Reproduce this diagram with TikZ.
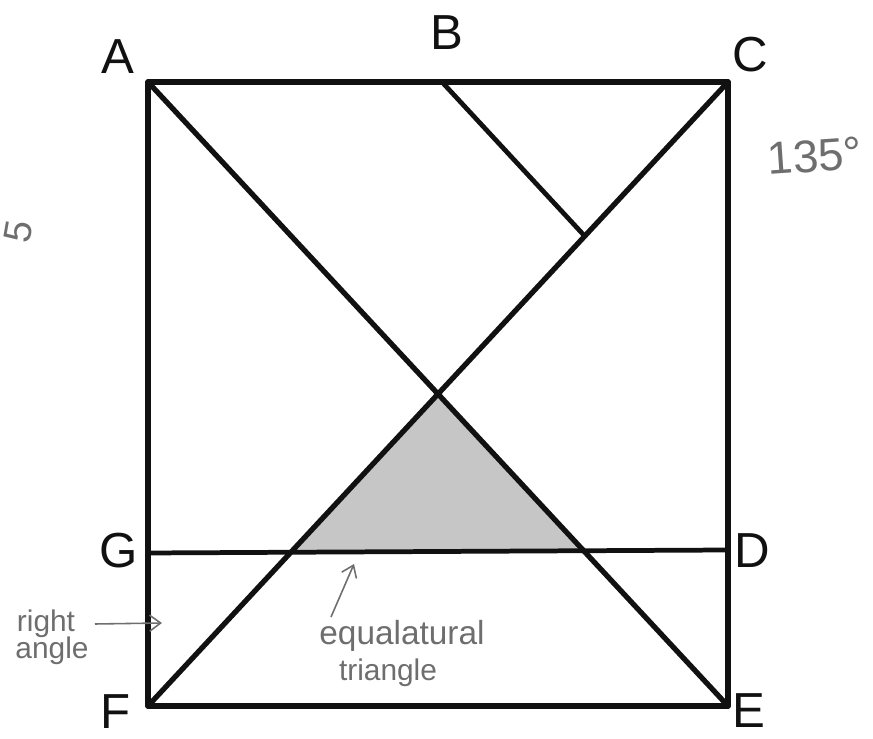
\documentclass[tikz,border=0pt]{standalone}
\usepackage{fontspec}
\setmainfont{Liberation Sans}
\usepackage{tikz}
\usetikzlibrary{arrows.meta,calc}
\definecolor{InkLine}{HTML}{111111}
\definecolor{Pencil}{HTML}{6E6E6E}
\definecolor{ShadeGrey}{HTML}{C6C6C6}
\tikzset{
  edgeline/.style={draw=InkLine,line width=3pt,line cap=round,line join=round},
  midline/.style={draw=InkLine,line width=2.7pt,line cap=round},
  ptlabel/.style={font=\fontsize{28}{30}\selectfont,text=InkLine,inner sep=0pt},
  pencilnote/.style={font=\fontsize{17}{19}\selectfont,text=Pencil,inner sep=0pt},
  pencilarrow/.style={-{Straight Barb[length=2.2mm,width=3.2mm]},draw=Pencil,line width=0.9pt}
}

\begin{document}
\begin{tikzpicture}
\useasboundingbox (0,0) rectangle (17.46,14.78);

% corner and side points
\coordinate (A) at (2.96,13.14);
\coordinate (B) at (8.84,13.14);
\coordinate (C) at (14.56,13.14);
\coordinate (D) at (14.56,3.78);
\coordinate (E) at (14.56,0.66);
\coordinate (F) at (2.96,0.66);
\coordinate (G) at (2.96,3.72);
\coordinate (K) at ($(F)!0.753!(C)$);

% shaded triangle between the diagonals and GD
\coordinate (M) at (intersection of A--E and F--C);
\coordinate (P) at (intersection of F--C and G--D);
\coordinate (Q) at (intersection of A--E and G--D);
\fill[ShadeGrey] (M) -- (P) -- (Q) -- cycle;

% square, diagonals, cuts
\draw[edgeline] (A) -- (C) -- (E) -- (F) -- cycle;
\draw[edgeline] (A) -- (E);
\draw[edgeline] (F) -- (C);
\draw[midline] (B) -- (K);
\draw[midline] (G) -- (D);

% letters
\node[ptlabel] (lblA) at (2.36,13.64) {A};
\node[ptlabel] (lblB) at (8.94,14.12) {B};
\node[ptlabel] (lblC) at (15.00,13.68) {C};
\node[ptlabel] (lblD) at (15.04,3.76) {D};
\node[ptlabel] (lblE) at (14.98,0.56) {E};
\node[ptlabel] (lblF) at (2.32,0.54) {F};
\node[ptlabel] (lblG) at (2.38,3.76) {G};

% pencil notes
\node[pencilnote,font=\fontsize{26}{28}\selectfont,rotate=4] (ang135) at (16.30,11.66) {135°};
\node[pencilnote,font=\fontsize{22}{24}\selectfont,rotate=80] (angleft) at (0.36,10.14) {5};
\node[pencilnote] (noteright) at (0.92,2.30) {right};
\node[pencilnote] (noteangle) at (1.04,1.76) {angle};
\coordinate (rtail) at (1.90,2.30);
\coordinate (rtip) at (3.24,2.32);
\draw[pencilarrow] (rtail) -- (rtip);
\node[pencilnote,font=\fontsize{19}{21}\selectfont] (noteeq) at (8.04,2.06) {equalatural};
\node[pencilnote] (notetri) at (7.76,1.32) {triangle};
\coordinate (etail) at (6.62,2.44);
\coordinate (etip) at (7.08,3.50);
\draw[pencilarrow] (etail) -- (etip);
\end{tikzpicture}
\end{document}
